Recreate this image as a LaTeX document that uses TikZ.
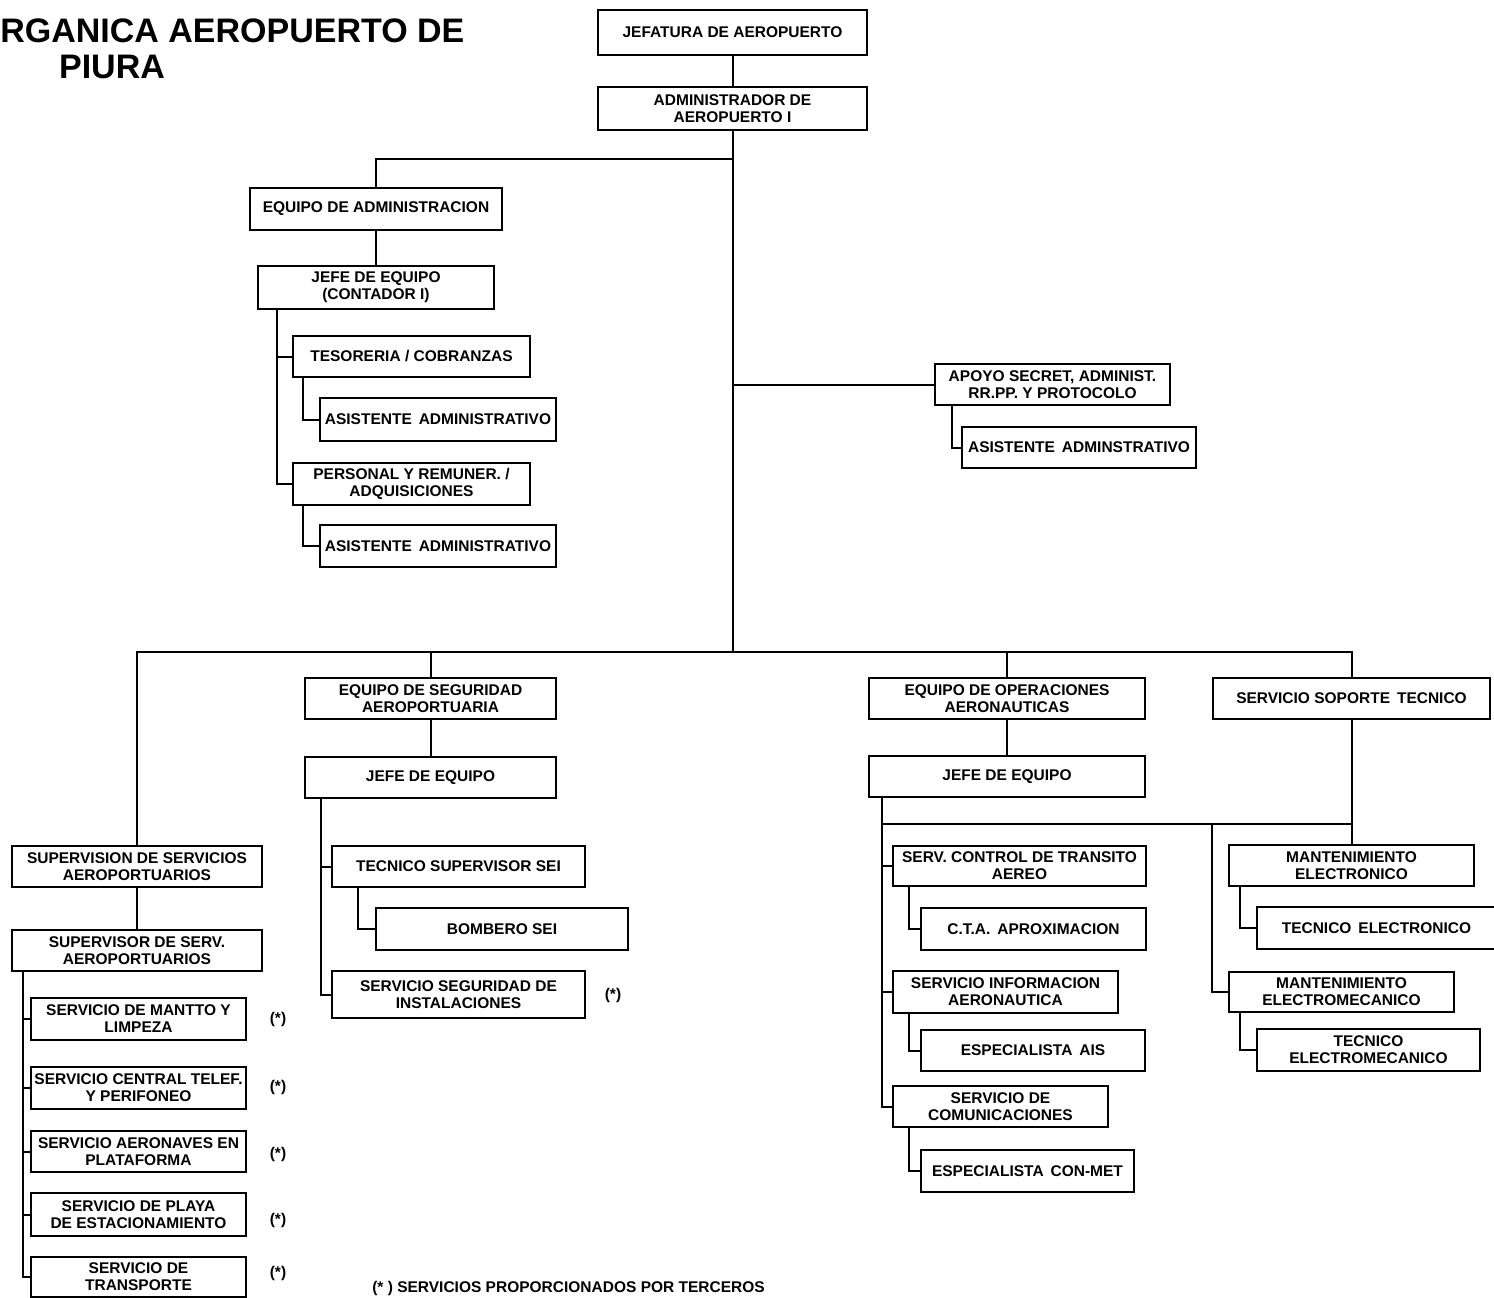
\documentclass[tikz,border=0pt]{standalone}
\usepackage{fontspec}
\setmainfont{Liberation Sans}
\begin{document}
\begin{tikzpicture}[x=1pt,y=-1pt,line width=2pt,
	caja/.style={draw,line width=2.2pt,minimum height=42pt,inner sep=0pt,align=center,font=\bfseries\fontsize{15.5}{17}\selectfont},
	nota/.style={font=\bfseries\fontsize{15.5}{17}\selectfont}]
	\path[use as bounding box,fill=white] (0,0) rectangle (1494,1298);
	\node[anchor=base west,font=\bfseries\fontsize{34}{38}\selectfont] (titulo) at (-4,43) {RGANICA AEROPUERTO DE};
	\node[anchor=base,font=\bfseries\fontsize{34}{38}\selectfont] (titulob) at (112,78) {PIURA};
	\node[caja,minimum width=269pt,minimum height=45pt] (jefatura) at (732.5,32.5) {JEFATURA DE AEROPUERTO};
	\node[caja,minimum width=269pt,minimum height=43pt] (admin) at (732.5,108.5) {ADMINISTRADOR DE\\AEROPUERTO I};
	\node[caja,minimum width=252pt] (eqadm) at (376,209) {EQUIPO DE ADMINISTRACION};
	\node[caja,minimum width=236pt,minimum height=43pt] (jefeadm) at (376,287.5) {JEFE DE EQUIPO\\(CONTADOR I)};
	\node[caja,minimum width=237pt,minimum height=41pt] (tesoreria) at (411.5,356.5) {TESORERIA / COBRANZAS};
	\node[caja,minimum width=236pt,minimum height=43pt] (asist1) at (438,419.5) {ASISTENTE\, ADMINISTRATIVO};
	\node[caja,minimum width=237pt] (personal) at (411.5,484) {PERSONAL Y REMUNER. /\\ADQUISICIONES};
	\node[caja,minimum width=236pt] (asist2) at (438,546) {ASISTENTE\, ADMINISTRATIVO};
	\node[caja,minimum width=235pt,minimum height=41pt] (apoyo) at (1052.5,384.5) {APOYO SECRET, ADMINIST.\\RR.PP. Y PROTOCOLO};
	\node[caja,minimum width=234pt,minimum height=41pt] (asist3) at (1079,447.5) {ASISTENTE\, ADMINSTRATIVO};
	\coordinate (bus) at (732.5,652);
	\coordinate (ramaadm) at (732.5,159);
	\node[caja,minimum width=250pt,minimum height=41pt] (supervision) at (137,866.5) {SUPERVISION DE SERVICIOS\\AEROPORTUARIOS};
	\node[caja,minimum width=250pt,minimum height=41pt] (supervisor) at (137,950.5) {SUPERVISOR DE SERV.\\AEROPORTUARIOS};
	\node[caja,minimum width=215pt] (mantto) at (138.5,1019) {SERVICIO DE MANTTO Y\\LIMPEZA};
	\node[caja,minimum width=215pt] (telef) at (138.5,1088) {SERVICIO CENTRAL TELEF.\\Y PERIFONEO};
	\node[caja,minimum width=215pt,minimum height=41pt] (plataforma) at (138.5,1151.5) {SERVICIO AERONAVES EN\\PLATAFORMA};
	\node[caja,minimum width=215pt,minimum height=43pt] (playa) at (138.5,1214.5) {SERVICIO DE PLAYA\\DE ESTACIONAMIENTO};
	\node[caja,minimum width=215pt,minimum height=40pt] (transporte) at (138.5,1277) {SERVICIO DE\\TRANSPORTE};
	\node[caja,minimum width=251pt,minimum height=41pt] (eqseg) at (430.5,698.5) {EQUIPO DE SEGURIDAD\\AEROPORTUARIA};
	\node[caja,minimum width=251pt,minimum height=41pt] (jefeseg) at (430.5,777.5) {JEFE DE EQUIPO};
	\node[caja,minimum width=253pt,minimum height=41pt] (tecsup) at (458.5,866.5) {TECNICO SUPERVISOR SEI};
	\node[caja,minimum width=252pt] (bombero) at (502,929) {BOMBERO SEI};
	\node[caja,minimum width=253pt,minimum height=47pt] (servseg) at (458.5,994.5) {SERVICIO SEGURIDAD DE\\INSTALACIONES};
	\node[caja,minimum width=276pt,minimum height=41pt] (eqops) at (1007,698.5) {EQUIPO DE OPERACIONES\\AERONAUTICAS};
	\node[caja,minimum width=276pt,minimum height=41pt] (jefeops) at (1007,776.5) {JEFE DE EQUIPO};
	\node[caja,minimum width=253pt,minimum height=40pt] (ctrl) at (1019.5,866) {SERV. CONTROL DE TRANSITO\\AEREO};
	\node[caja,minimum width=225pt] (cta) at (1033.5,929) {C.T.A.\, APROXIMACION};
	\node[caja,minimum width=225pt] (info) at (1005.5,992) {SERVICIO INFORMACION\\AERONAUTICA};
	\node[caja,minimum width=224pt,minimum height=41pt] (ais) at (1033,1050.5) {ESPECIALISTA\, AIS};
	\node[caja,minimum width=215pt,minimum height=41pt] (comunic) at (1000.5,1106.5) {SERVICIO DE\\COMUNICACIONES};
	\node[caja,minimum width=213pt] (conmet) at (1027.5,1171) {ESPECIALISTA\, CON-MET};
	\node[caja,minimum width=277pt,minimum height=41pt] (soporte) at (1351.5,698.5) {SERVICIO SOPORTE\, TECNICO};
	\node[caja,minimum width=245pt,minimum height=41pt] (mantelec) at (1351.5,865.5) {MANTENIMIENTO\\ELECTRONICO};
	\node[caja,minimum width=239pt] (tecelec) at (1376.5,928) {TECNICO\, ELECTRONICO};
	\node[caja,minimum width=225pt,minimum height=40pt] (mantmec) at (1341.5,992) {MANTENIMIENTO\\ELECTROMECANICO};
	\node[caja,minimum width=223pt] (tecmec) at (1368.5,1050) {TECNICO\\ELECTROMECANICO};
	\node[nota] (ast1) at (278,1019) {(*)};
	\node[nota] (ast2) at (278,1087) {(*)};
	\node[nota] (ast3) at (278,1154) {(*)};
	\node[nota] (ast4) at (278,1220) {(*)};
	\node[nota] (ast5) at (278,1273) {(*)};
	\node[nota] (ast6) at (613,995) {(*)};
	\node[nota,anchor=west] (pie) at (368,1288) {(* ) SERVICIOS PROPORCIONADOS POR TERCEROS};
	\draw (jefatura) -- (admin);
	\draw (admin) -- (bus);
	\draw (eqadm.north) |- (ramaadm);
	\draw (eqadm) -- (jefeadm);
	\coordinate (ladm) at ([xshift=20pt]jefeadm.south west);
	\draw (ladm) |- (personal.west);
	\draw (ladm |- tesoreria.west) -- (tesoreria.west);
	\draw ([xshift=11pt]tesoreria.south west) |- (asist1.west);
	\draw ([xshift=11pt]personal.south west) |- (asist2.west);
	\draw (apoyo.west) -- (apoyo.west -| bus);
	\draw ([xshift=18pt]apoyo.south west) |- (asist3.west);
	\draw (supervision.north) |- (bus) -| (soporte.north);
	\draw (eqseg.north) |- (bus);
	\draw (eqops.north) |- (bus);
	\draw (supervision) -- (supervisor);
	\coordinate (lsup) at ([xshift=12pt]supervisor.south west);
	\draw (lsup) |- (transporte.west);
	\foreach \n in {mantto,telef,plataforma,playa}
		\draw (lsup |- \n.west) -- (\n.west);
	\draw (eqseg) -- (jefeseg);
	\coordinate (lseg) at ([xshift=17pt]jefeseg.south west);
	\draw (lseg) |- (servseg.west);
	\draw (lseg |- tecsup.west) -- (tecsup.west);
	\draw ([xshift=27pt]tecsup.south west) |- (bombero.west);
	\draw (eqops) -- (jefeops);
	\coordinate (lops) at ([xshift=14pt]jefeops.south west);
	\draw (lops) |- (comunic.west);
	\foreach \n in {ctrl,info}
		\draw (lops |- \n.west) -- (\n.west);
	\draw ([xshift=17pt]ctrl.south west) |- (cta.west);
	\draw ([xshift=17pt]info.south west) |- (ais.west);
	\draw ([xshift=17pt]comunic.south west) |- (conmet.west);
	\path (lops) ++(0,26) coordinate (cruce);
	\path (cruce) ++(330,0) coordinate (ramamec);
	\draw (cruce) -| (mantelec.north);
	\draw (soporte) -- (mantelec);
	\draw (ramamec) |- (mantmec.west);
	\draw ([xshift=12pt]mantelec.south west) |- (tecelec.west);
	\draw ([xshift=12pt]mantmec.south west) |- (tecmec.west);
\end{tikzpicture}
\end{document}
